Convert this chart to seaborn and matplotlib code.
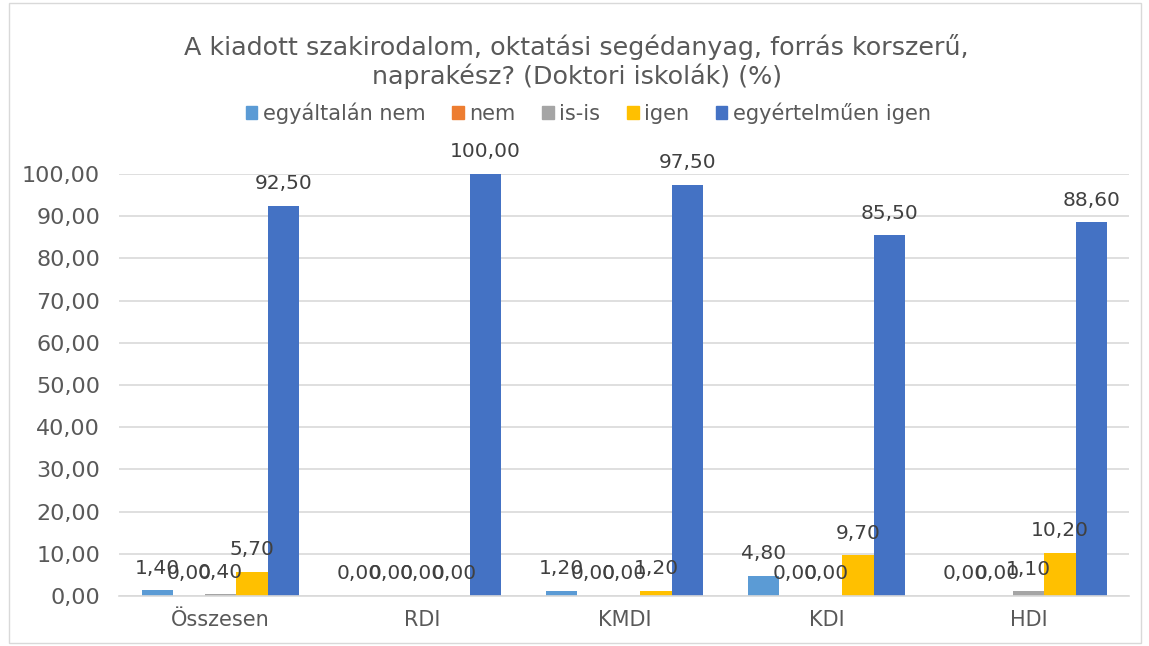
import numpy as np
import pandas as pd
import matplotlib
matplotlib.use("Agg")
import matplotlib.pyplot as plt
import seaborn as sns
from matplotlib.patches import Rectangle

# adatok
categories = ["Összesen", "RDI", "KMDI", "KDI", "HDI"]
series = ["egyáltalán nem", "nem", "is-is", "igen", "egyértelműen igen"]
egyaltalan_nem = [1.40, 0.00, 1.20, 4.80, 0.00]
nem = [0.00, 0.00, 0.00, 0.00, 0.00]
is_is = [0.40, 0.00, 0.00, 0.00, 1.10]
igen = [5.70, 0.00, 1.20, 9.70, 10.20]
egyertelmuen_igen = [92.50, 100.00, 97.50, 85.50, 88.60]
colors = ["#5B9BD5", "#ED7D31", "#A5A5A5", "#FFC000", "#4472C4"]

values = [egyaltalan_nem, nem, is_is, igen, egyertelmuen_igen]
df = pd.DataFrame({
    "cat": np.repeat([categories], len(series), axis=0).ravel(),
    "series": np.repeat(series, len(categories)),
    "val": np.concatenate(values),
})

sns.set_style("white")
plt.rcParams["font.family"] = ["DejaVu Sans"]
txt = "#595959"

fig = plt.figure(figsize=(11.49, 6.46), dpi=100)
ax = fig.add_axes([0.104, 0.0774, 0.879, 0.6533])

sns.barplot(data=df, x="cat", y="val", hue="series", order=categories,
            hue_order=series, palette=colors, width=0.78, gap=0,
            saturation=1, errorbar=None, ax=ax, legend=False, linewidth=0)

for cont in ax.containers:
    labels = [f"{b.get_height():.2f}".replace(".", ",") for b in cont]
    ax.bar_label(cont, labels=labels, padding=9, fontsize=14.5, color="#404040")

ax.set_ylim(0, 100)
ax.set_yticks(np.arange(0, 101, 10))
ax.set_yticklabels([f"{v:.2f}".replace(".", ",") for v in np.arange(0, 101, 10)])
ax.yaxis.grid(True, color="#D9D9D9", linewidth=1.2)
ax.set_axisbelow(True)
for s in ["top", "right", "left"]:
    ax.spines[s].set_visible(False)
ax.spines["bottom"].set_color("#D9D9D9")
ax.spines["bottom"].set_linewidth(1.2)
ax.tick_params(axis="both", length=0, labelsize=15, colors=txt)
ax.tick_params(axis="y", pad=14, labelsize=16)
ax.tick_params(axis="x", pad=10)
ax.set_xlabel("")
ax.set_ylabel("")

fig.text(0.502, 0.905, "A kiadott szakirodalom, oktatási segédanyag, forrás korszerű,\nnaprakész? (Doktori iskolák) (%)",
         ha="center", va="center", fontsize=18.3, color=txt, linespacing=1.15)

handles = [Rectangle((0, 0), 1, 1, color=c) for c in colors]
fig.legend(handles, series, loc="center", bbox_to_anchor=(0.512, 0.825), ncol=5,
           frameon=False, fontsize=15, labelcolor=txt, handlelength=0.55,
           handleheight=0.55, handletextpad=0.25, columnspacing=1.3)

fig.patches.append(Rectangle((0.008, 0.005), 0.985, 0.99, transform=fig.transFigure,
                             fill=False, edgecolor="#D9D9D9", linewidth=1))

fig.savefig("out.png", dpi=100, facecolor="white")
